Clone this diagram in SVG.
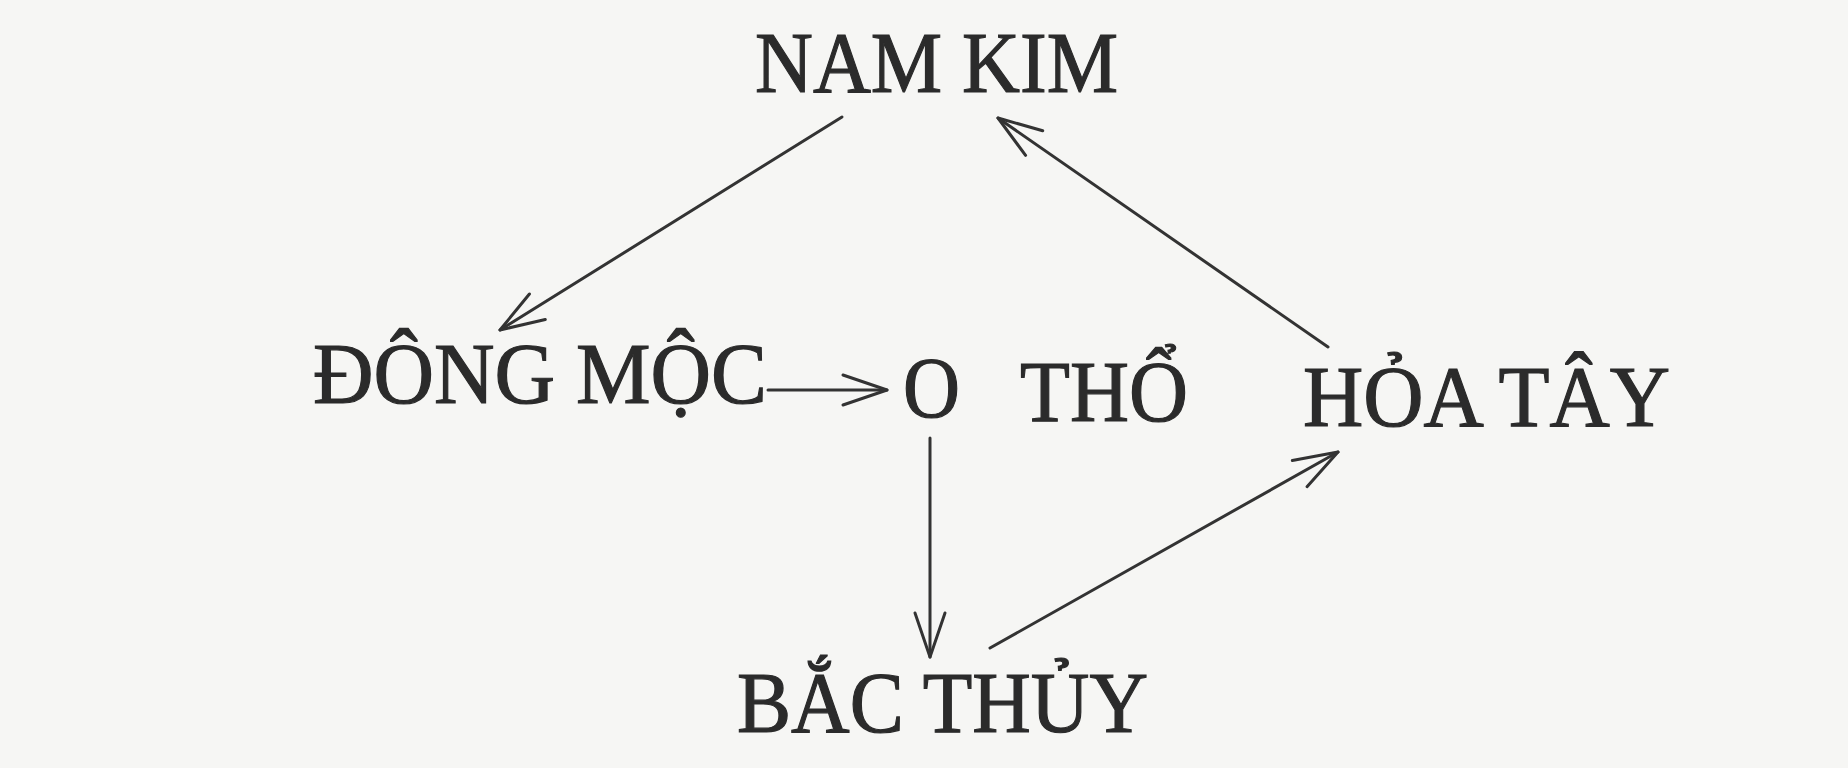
<svg xmlns="http://www.w3.org/2000/svg" width="1848" height="768" viewBox="0 0 1848 768">
  <style>
    .lbl { font-family: "Liberation Serif", "Times New Roman", serif; font-size: 86px; fill: #2b2b2b; stroke: #2b2b2b; stroke-width: 1.2px; }
    .edge { stroke: #333333; stroke-width: 3; fill: none; stroke-linecap: round; }
  </style>
  <defs>
    <marker id="arrow" markerUnits="userSpaceOnUse" markerWidth="60" markerHeight="40" viewBox="-50 -20 60 40" refX="0" refY="0" orient="auto" overflow="visible">
      <path d="M -44 -15 L 0 0 L -44 15" fill="none" stroke="#333333" stroke-width="3" stroke-linecap="round" stroke-linejoin="round"/>
    </marker>
  </defs>
  <rect x="0" y="0" width="1848" height="768" fill="#f6f6f4"/>

  <g id="node-nam-kim">
    <text class="lbl" x="755" y="92" textLength="363" lengthAdjust="spacingAndGlyphs">NAM KIM</text>
  </g>
  <g id="node-dong-moc">
    <text class="lbl" x="313" y="403" textLength="454" lengthAdjust="spacingAndGlyphs">ĐÔNG MỘC</text>
  </g>
  <g id="node-tho">
    <text class="lbl" x="903" y="417" textLength="57" lengthAdjust="spacingAndGlyphs">O</text>
    <text class="lbl" x="1020" y="421" textLength="168" lengthAdjust="spacingAndGlyphs">THỔ</text>
  </g>
  <g id="node-hoa-tay">
    <text class="lbl" x="1303" y="426" textLength="367" lengthAdjust="spacingAndGlyphs">HỎA TÂY</text>
  </g>
  <g id="node-bac-thuy">
    <text class="lbl" x="737" y="732" textLength="411" lengthAdjust="spacingAndGlyphs">BẮC THỦY</text>
  </g>

  <g id="connectors">
    <line class="edge" x1="842" y1="117" x2="500" y2="330" marker-end="url(#arrow)"/>
    <line class="edge" x1="1328" y1="347" x2="998" y2="118" marker-end="url(#arrow)"/>
    <line class="edge" x1="768" y1="390" x2="887" y2="390" marker-end="url(#arrow)"/>
    <line class="edge" x1="930" y1="438" x2="930" y2="657" marker-end="url(#arrow)"/>
    <line class="edge" x1="990" y1="648" x2="1338" y2="452" marker-end="url(#arrow)"/>
  </g>
</svg>
